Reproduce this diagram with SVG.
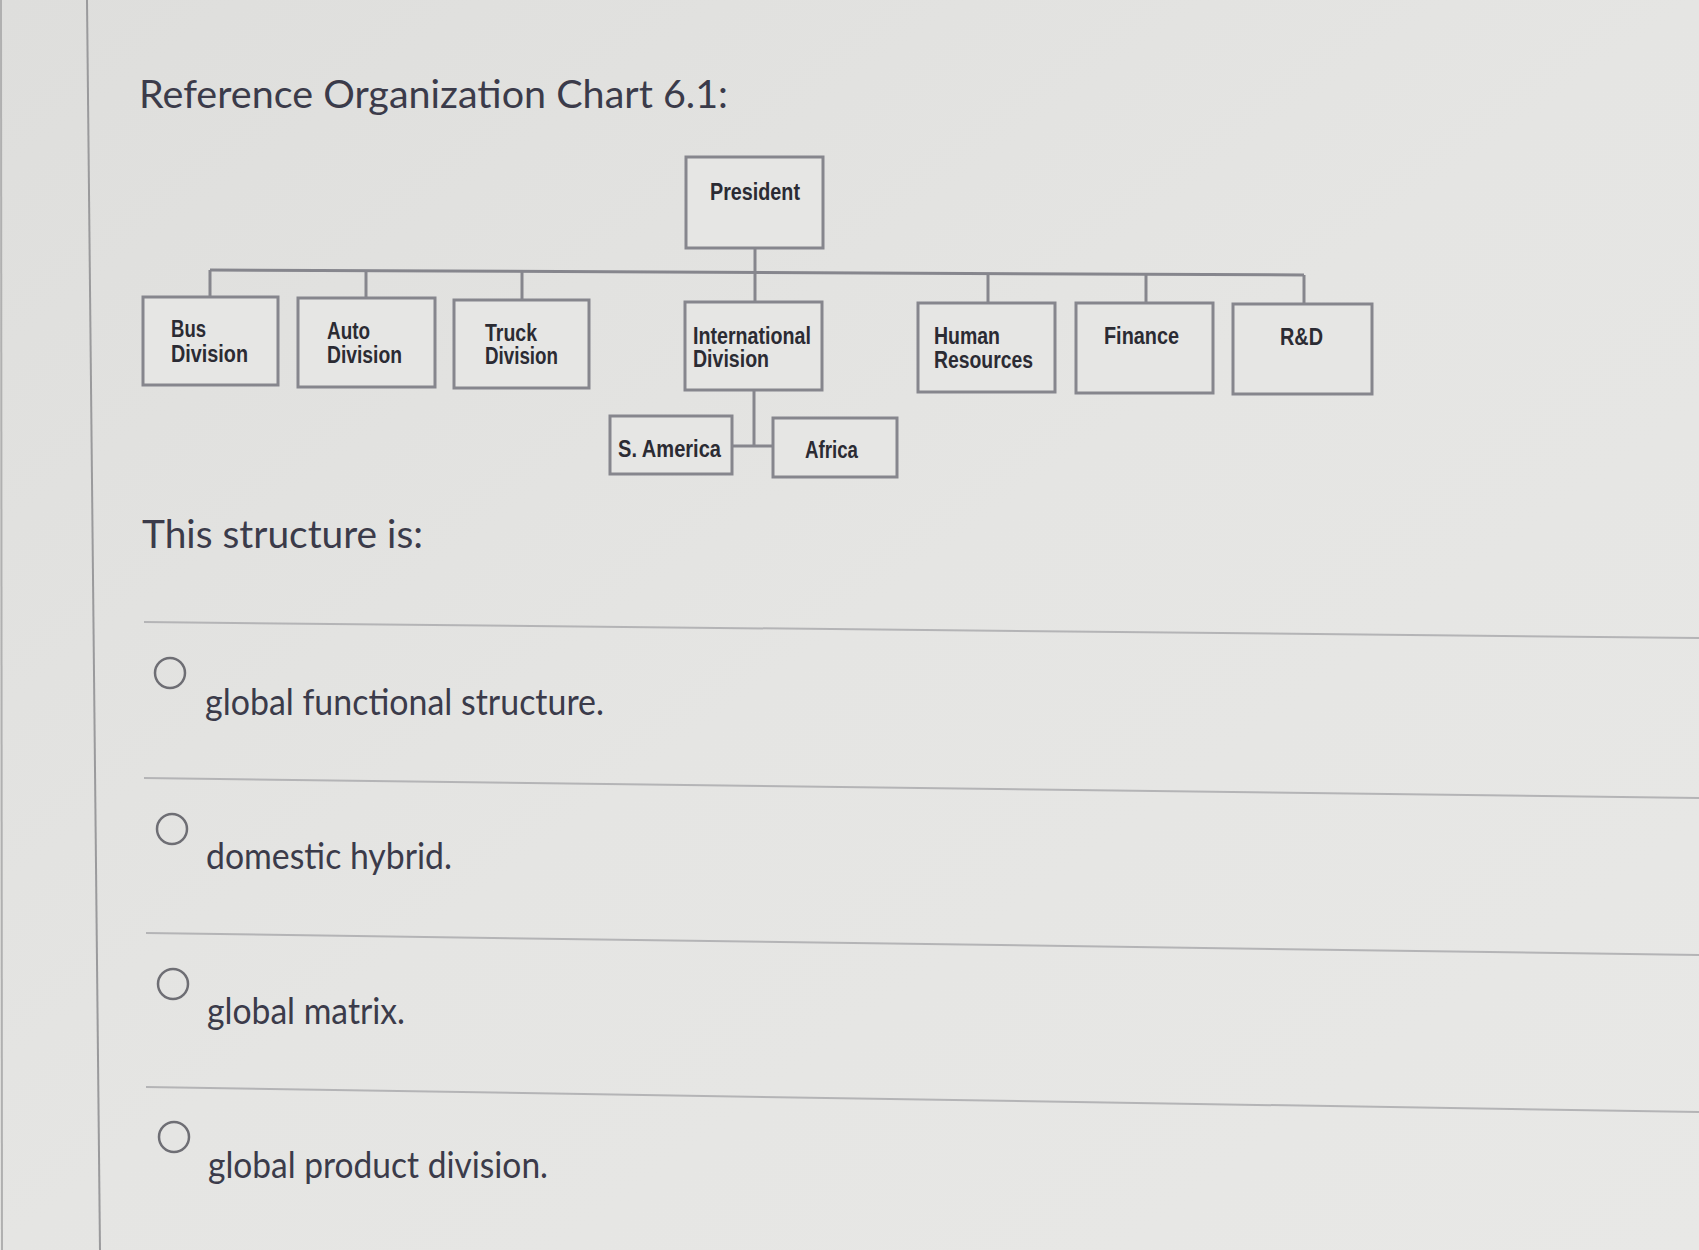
<svg xmlns="http://www.w3.org/2000/svg" width="1699" height="1250" viewBox="0 0 1699 1250">
<defs>
<linearGradient id="bg" x1="0" y1="0" x2="1" y2="1">
<stop offset="0" stop-color="#dededc"/>
<stop offset="0.5" stop-color="#e5e5e3"/>
<stop offset="1" stop-color="#e8e8e6"/>
</linearGradient>
<style>
.box{fill:#e6e6e4;stroke:#86868d;stroke-width:3}
.lbl{font-family:"Liberation Sans",Arial,sans-serif;font-weight:bold;font-size:23px;fill:#2b2b33}
.con{stroke:#86868d;stroke-width:3;fill:none}
.q{font-family:Lato,"Open Sans",sans-serif;fill:#3b3b4a}
.sep{stroke:#b4b4b6;stroke-width:2}
.rad{fill:none;stroke:#6e6e74;stroke-width:2.5}
</style>
</defs>
<rect width="1699" height="1250" fill="url(#bg)"/>
<line x1="1" y1="0" x2="2" y2="1250" stroke="#b0b0b0" stroke-width="2"/>
<line x1="87" y1="0" x2="100" y2="1250" stroke="#9a9a9c" stroke-width="2"/>

<text class="q" x="139" y="108" font-size="39" textLength="589" lengthAdjust="spacingAndGlyphs">Reference Organization Chart 6.1:</text>

<g id="connectors">
<line class="con" x1="755" y1="248" x2="755" y2="302"/>
<line class="con" x1="210" y1="270" x2="1304" y2="275"/>
<line class="con" x1="210" y1="270" x2="210" y2="297"/>
<line class="con" x1="366" y1="271" x2="366" y2="298"/>
<line class="con" x1="522" y1="271" x2="522" y2="300"/>
<line class="con" x1="988" y1="274" x2="988" y2="303"/>
<line class="con" x1="1146" y1="274" x2="1146" y2="303"/>
<line class="con" x1="1304" y1="275" x2="1304" y2="304"/>
<line class="con" x1="754" y1="390" x2="754" y2="446"/>
<line class="con" x1="732" y1="446" x2="773" y2="446"/>
</g>

<g id="president">
<rect class="box" x="686" y="157" width="137" height="91"/>
<text class="lbl" x="710" y="200" textLength="90" lengthAdjust="spacingAndGlyphs">President</text>
</g>
<g id="bus">
<rect class="box" x="143" y="297" width="135" height="88"/>
<text class="lbl" x="171" y="337" textLength="35" lengthAdjust="spacingAndGlyphs">Bus</text>
<text class="lbl" x="171" y="362" textLength="77" lengthAdjust="spacingAndGlyphs">Division</text>
</g>
<g id="auto">
<rect class="box" x="298" y="298" width="137" height="89"/>
<text class="lbl" x="327" y="339" textLength="43" lengthAdjust="spacingAndGlyphs">Auto</text>
<text class="lbl" x="327" y="363" textLength="75" lengthAdjust="spacingAndGlyphs">Division</text>
</g>
<g id="truck">
<rect class="box" x="454" y="300" width="135" height="88"/>
<text class="lbl" x="485" y="341" textLength="52" lengthAdjust="spacingAndGlyphs">Truck</text>
<text class="lbl" x="485" y="364" textLength="73" lengthAdjust="spacingAndGlyphs">Division</text>
</g>
<g id="international">
<rect class="box" x="685" y="302" width="137" height="88"/>
<text class="lbl" x="693" y="344" textLength="118" lengthAdjust="spacingAndGlyphs">International</text>
<text class="lbl" x="693" y="367" textLength="76" lengthAdjust="spacingAndGlyphs">Division</text>
</g>
<g id="hr">
<rect class="box" x="918" y="303" width="137" height="89"/>
<text class="lbl" x="934" y="344" textLength="66" lengthAdjust="spacingAndGlyphs">Human</text>
<text class="lbl" x="934" y="368" textLength="99" lengthAdjust="spacingAndGlyphs">Resources</text>
</g>
<g id="finance">
<rect class="box" x="1076" y="303" width="137" height="90"/>
<text class="lbl" x="1104" y="344" textLength="75" lengthAdjust="spacingAndGlyphs">Finance</text>
</g>
<g id="rd">
<rect class="box" x="1233" y="304" width="139" height="90"/>
<text class="lbl" x="1280" y="345" textLength="43" lengthAdjust="spacingAndGlyphs">R&amp;D</text>
</g>
<g id="samerica">
<rect class="box" x="610" y="416" width="122" height="58"/>
<text class="lbl" x="618" y="457" textLength="103" lengthAdjust="spacingAndGlyphs">S. America</text>
</g>
<g id="africa">
<rect class="box" x="773" y="418" width="124" height="59"/>
<text class="lbl" x="805" y="458" textLength="53" lengthAdjust="spacingAndGlyphs">Africa</text>
</g>

<text class="q" x="142" y="548" font-size="39" textLength="281" lengthAdjust="spacingAndGlyphs">This structure is:</text>

<line class="sep" x1="144" y1="622" x2="1699" y2="638"/>
<line class="sep" x1="144" y1="778" x2="1699" y2="798"/>
<line class="sep" x1="146" y1="933" x2="1699" y2="955"/>
<line class="sep" x1="146" y1="1087" x2="1699" y2="1112"/>

<circle class="rad" cx="170" cy="673" r="15"/>
<text class="q" x="205" y="715" font-size="37" textLength="399" lengthAdjust="spacingAndGlyphs">global functional structure.</text>
<circle class="rad" cx="172" cy="829" r="15"/>
<text class="q" x="206" y="869" font-size="37" textLength="246" lengthAdjust="spacingAndGlyphs">domestic hybrid.</text>
<circle class="rad" cx="173" cy="984" r="15"/>
<text class="q" x="207" y="1024" font-size="37" textLength="198" lengthAdjust="spacingAndGlyphs">global matrix.</text>
<circle class="rad" cx="174" cy="1137" r="15"/>
<text class="q" x="208" y="1178" font-size="37" textLength="340" lengthAdjust="spacingAndGlyphs">global product division.</text>
</svg>
